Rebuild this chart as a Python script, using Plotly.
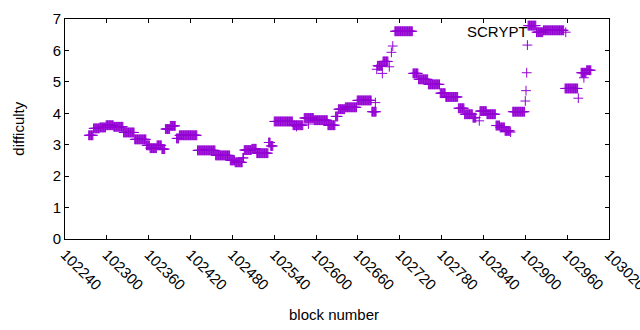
import plotly.graph_objects as go

# Plateau segments of difficulty (first block, last block, difficulty)
seg_start = [102274, 102281, 102290, 102299, 102310, 102324, 102340, 102357, 102362, 102372,
             102379, 102384, 102391, 102400, 102404, 102430, 102456, 102477, 102484, 102495,
             102497, 102508, 102515, 102532, 102535, 102540, 102567, 102583, 102597, 102617,
             102628, 102632, 102642, 102659, 102680, 102688, 102696, 102713, 102739, 102747,
             102761, 102778, 102786, 102804, 102813, 102825, 102835, 102845, 102858, 102864,
             102871, 102882, 102904, 102916, 102926, 102957, 102980, 102988]
seg_end = [102280, 102289, 102298, 102309, 102323, 102339, 102356, 102361, 102371, 102378,
           102383, 102390, 102398, 102403, 102429, 102455, 102476, 102483, 102494, 102496,
           102507, 102514, 102531, 102534, 102538, 102566, 102581, 102596, 102616, 102627,
           102631, 102641, 102658, 102679, 102686, 102695, 102703, 102738, 102746, 102760,
           102777, 102785, 102803, 102812, 102824, 102829, 102844, 102857, 102863, 102870,
           102878, 102899, 102915, 102925, 102955, 102975, 102987, 102994]
seg_value = [3.30, 3.52, 3.55, 3.62, 3.57, 3.39, 3.17, 2.98, 2.89, 2.98,
             2.86, 3.50, 3.60, 3.20, 3.30, 2.82, 2.66, 2.50, 2.44, 2.58,
             2.83, 2.87, 2.73, 3.07, 2.96, 3.74, 3.62, 3.85, 3.78, 3.62,
             3.90, 4.13, 4.19, 4.41, 4.05, 5.51, 5.65, 6.61, 5.27, 5.08,
             4.92, 4.64, 4.52, 4.16, 3.97, 3.86, 4.07, 3.97, 3.61, 3.55,
             3.44, 4.05, 6.79, 6.58, 6.64, 4.79, 5.29, 5.37]

# Isolated blocks
pt_block = [102687, 102695, 102705, 102708, 102710, 102685, 102834, 102879,
            102900, 102901, 102902, 102903, 102958, 102976, 102984, 102572, 102589]
pt_value = [5.40, 5.27, 5.48, 5.94, 6.14, 4.34, 3.76, 3.40,
            4.39, 4.72, 5.29, 6.17, 6.58, 4.48, 5.13, 3.58, 3.66]

blocks, diffs = [], []
for s, e, v in zip(seg_start, seg_end, seg_value):
    for b in range(s, e + 1):
        blocks.append(b)
        diffs.append(v)
blocks += pt_block
diffs += pt_value

x_ticks = list(range(102240, 103021, 60))
y_ticks = list(range(0, 8))

color = "#9400D3"
font = dict(family="Liberation Sans, Arial, sans-serif", size=15, color="black")

fig = go.Figure()
fig.add_trace(go.Scatter(
    x=blocks, y=diffs, mode="markers", name="SCRYPT",
    marker=dict(symbol="cross-thin", size=7, color=color,
                line=dict(width=1, color=color)),
    showlegend=False,
))

axis_common = dict(showline=True, linecolor="black", linewidth=1, mirror="allticks",
                   ticks="inside", ticklen=4, tickcolor="black", showgrid=False,
                   zeroline=False, tickfont=font, automargin=False)
fig.update_xaxes(range=[102240, 103020], tickvals=x_ticks,
                 ticktext=[str(t) for t in x_ticks], tickangle=45,
                 ticklabeloverflow="allow", **axis_common)
fig.update_yaxes(range=[0, 7], tickvals=y_ticks, **axis_common)

fig.add_annotation(text="SCRYPT", x=0.854, y=0.945, xref="paper", yref="paper",
                   xanchor="right", yanchor="middle", showarrow=False, font=font)
fig.add_annotation(text="difficulty", x=-0.087, y=0.5, xref="paper", yref="paper",
                   textangle=-90, xanchor="center", yanchor="middle", showarrow=False, font=font)
fig.add_annotation(text="block number", x=0.4945, y=-0.345, xref="paper", yref="paper",
                   xanchor="center", yanchor="middle", showarrow=False, font=font)

fig.update_layout(width=640, height=330, margin=dict(l=64.5, r=30.5, t=19, b=91),
                  plot_bgcolor="white", paper_bgcolor="white", font=font)
fig.write_html("out.html", config={"displayModeBar": False},
               post_script="document.body.style.margin='0';")
